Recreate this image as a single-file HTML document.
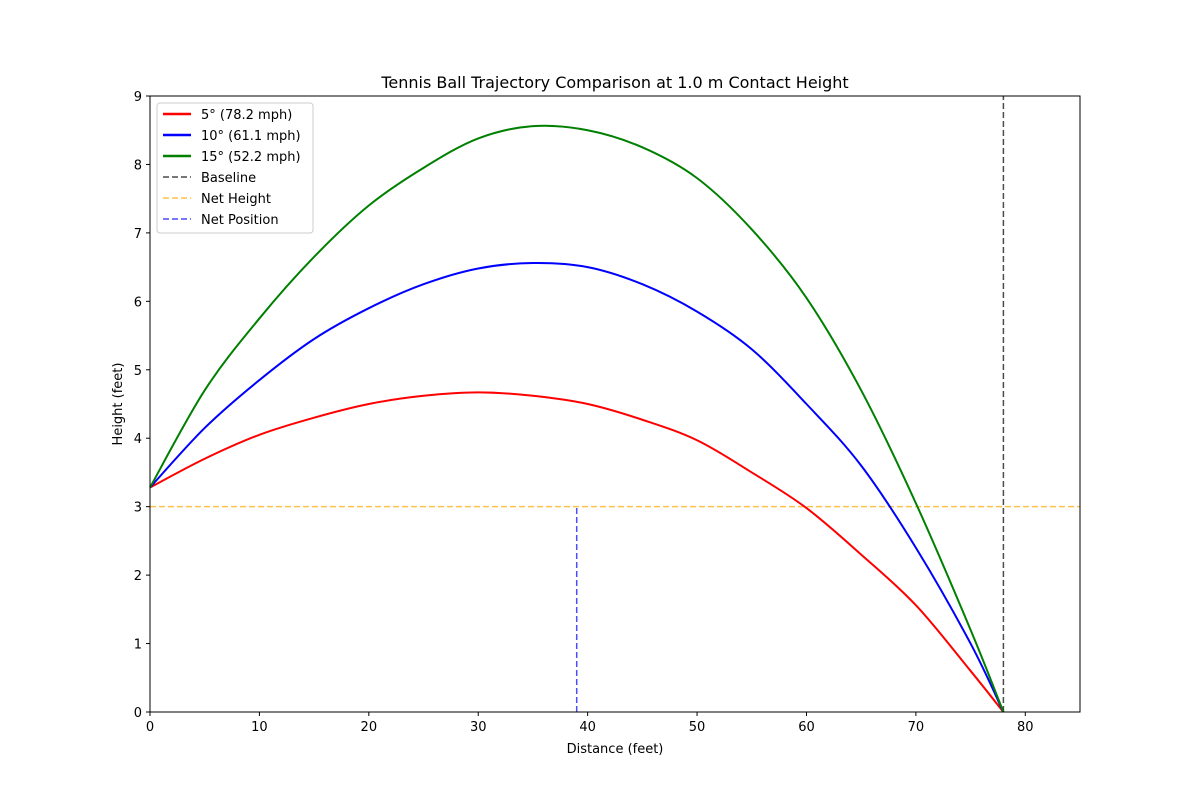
<!DOCTYPE html>
<html><head><meta charset="utf-8"><style>
body{margin:0;background:#fff;font-family:"Liberation Sans","DejaVu Sans",sans-serif}
svg text{font-family:"DejaVu Sans","Liberation Sans",sans-serif}
</style></head><body>
<svg id="chart" width="1200" height="800" xmlns="http://www.w3.org/2000/svg">
<rect width="1200" height="800" fill="#fff"/>
<text x="615" y="88" text-anchor="middle" font-size="16">Tennis Ball Trajectory Comparison at 1.0 m Contact Height</text>
<g id="plot"></g>
<text x="615" y="753" text-anchor="middle" font-size="13">Distance (feet)</text>
<text transform="translate(122,404) rotate(-90)" text-anchor="middle" font-size="13">Height (feet)</text>
</svg>
<script>
const xs = [0,5,10,15,20,25,30,35,40,45,50,55,60,65,70,75,78];
const red = [3.28,3.7,4.05,4.3,4.5,4.62,4.67,4.62,4.5,4.27,3.97,3.5,2.98,2.3,1.56,0.6,0];
const blue = [3.28,4.15,4.85,5.45,5.9,6.25,6.48,6.56,6.5,6.25,5.85,5.3,4.5,3.6,2.4,1.0,0];
const green = [3.28,4.7,5.75,6.65,7.4,7.95,8.38,8.56,8.5,8.25,7.8,7.05,6.05,4.7,3.05,1.2,0];
const xTicks = [0,10,20,30,40,50,60,70,80];
const yTicks = [0,1,2,3,4,5,6,7,8,9];
const netHeight = 3, netPos = 39, baseline = 78;
const labels = ["5° (78.2 mph)","10° (61.1 mph)","15° (52.2 mph)"];

const X0=150,X1=1080,Y0=712,Y1=96;
const sx=v=>X0+(v/85)*(X1-X0), sy=v=>Y0-(v/9)*(Y0-Y1);
const NS="http://www.w3.org/2000/svg", g=document.getElementById('plot');
function mk(t,a,p){const e=document.createElementNS(NS,t);for(const k in a)e.setAttribute(k,a[k]);(p||g).appendChild(e);return e;}
function path(ys){const p=xs.map((x,i)=>[sx(x),sy(ys[i])]);let d=`M${p[0][0]},${p[0][1]}`;
for(let i=0;i<p.length-1;i++){const a=p[i-1]||p[i],b=p[i],c=p[i+1],e=p[i+2]||c;
d+=`C${b[0]+(c[0]-a[0])/6},${b[1]+(c[1]-a[1])/6} ${c[0]-(e[0]-b[0])/6},${c[1]-(e[1]-b[1])/6} ${c[0]},${c[1]}`;}return d;}
let l;
l=mk('line',{x1:sx(0),x2:sx(85),y1:sy(netHeight),y2:sy(netHeight),stroke:'orange','stroke-opacity':0.7,'stroke-dasharray':'6,3','stroke-width':1.5});


l=mk('line',{x1:sx(netPos),x2:sx(netPos),y1:sy(0),y2:sy(netHeight),stroke:'blue','stroke-opacity':0.7,'stroke-dasharray':'6,3','stroke-width':1.5});


l=mk('line',{x1:sx(baseline),x2:sx(baseline),y1:sy(0),y2:sy(9),stroke:'#000','stroke-opacity':0.7,'stroke-dasharray':'6,3','stroke-width':1.5});


[[red,'red','series-5deg'],[blue,'blue','series-10deg'],[green,'green','series-15deg']].forEach(s=>{
const e=mk('path',{d:path(s[0]),fill:'none',stroke:s[1],'stroke-width':2});

});
const fr=mk('rect',{x:X0,y:Y1,width:X1-X0,height:Y0-Y1,fill:'none',stroke:'#000','stroke-width':1});


xTicks.forEach(v=>{mk('line',{x1:sx(v),x2:sx(v),y1:Y0,y2:Y0+4,stroke:'#000'});
const t=mk('text',{x:sx(v),y:Y0+19,'text-anchor':'middle','font-size':13});t.textContent=v;

});
yTicks.forEach(v=>{mk('line',{x1:X0-4,x2:X0,y1:sy(v),y2:sy(v),stroke:'#000'});
const t=mk('text',{x:X0-8,y:sy(v)+5,'text-anchor':'end','font-size':13});t.textContent=v;

});
const lg=mk('g',{});


mk('rect',{x:157,y:103,width:156,height:130,rx:3,fill:'#fff','fill-opacity':0.8,stroke:'#ccc'},lg);
const ents=[[labels[0],'red',0,1],[labels[1],'blue',0,1],[labels[2],'green',0,1],['Baseline','#000',1,0.7],['Net Height','orange',1,0.7],['Net Position','blue',1,0.7]];
ents.forEach((en,i)=>{const y=114+i*21;
const ln=mk('line',{x1:163,x2:191,y1:y,y2:y,stroke:en[1],'stroke-opacity':en[3],'stroke-width':en[2]?1.5:2.5,'stroke-dasharray':en[2]?'6,3':'none'},lg);


const t=mk('text',{x:201,y:y+5,'font-size':13},lg);t.textContent=en[0];

});
</script>
</body></html>
